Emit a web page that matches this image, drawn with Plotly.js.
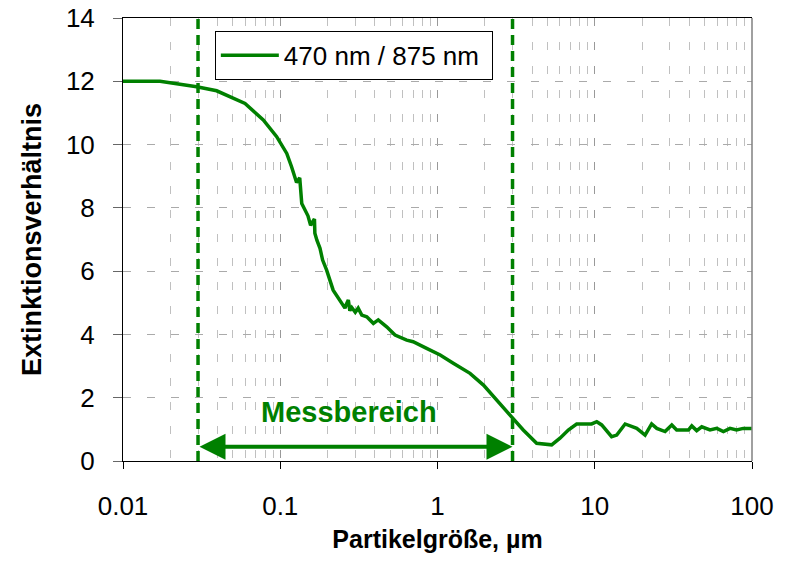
<!DOCTYPE html>
<html>
<head>
<meta charset="utf-8">
<script src="https://cdn.plot.ly/plotly-3.0.1.min.js"></script>
<style>html,body{margin:0;padding:0;background:#fff;}#chart{width:789px;height:561px;}</style>
</head>
<body>
<div id="chart"></div>
<script>
// Particle size (µm) and extinction ratio 470 nm / 875 nm
const particleSize = [0.01, 0.0172, 0.0294, 0.0394, 0.0597, 0.078, 0.0949, 0.100, 0.102, 0.110, 0.118, 0.124, 0.127, 0.133, 0.137,
  0.150, 0.156, 0.165, 0.166, 0.171, 0.179, 0.186, 0.197, 0.217, 0.240, 0.258, 0.263, 0.271, 0.277, 0.285, 0.30, 0.313, 0.33,
  0.355, 0.391, 0.42, 0.475, 0.537, 0.637, 0.70, 0.853, 1.04, 1.26, 1.61, 1.96, 2.38, 2.89, 3.51, 4.27, 5.32, 6.01, 6.79, 7.67,
  9.55, 10.3, 11.07, 12.8, 13.8, 15.6, 17.6, 18.5, 20.9, 23.0, 24.8, 28.0, 30.9, 33.2, 39.4, 41.4, 44.5, 47.9, 54.1, 59.7, 65.8,
  72.5, 79.8, 88, 100];
const extinctionRatio = [12.0, 12.0, 11.83, 11.70, 11.30, 10.78, 10.25, 10.05, 9.99, 9.72, 9.30, 8.93, 8.80, 8.95, 8.14,
  7.75, 7.45, 7.65, 7.20, 6.98, 6.72, 6.35, 6.04, 5.40, 5.09, 4.83, 4.95, 5.09, 4.75, 4.85, 4.70, 4.83, 4.61,
  4.56, 4.35, 4.46, 4.24, 3.98, 3.82, 3.77, 3.56, 3.35, 3.09, 2.77, 2.40, 1.93, 1.45, 0.98, 0.56, 0.51, 0.72, 0.98, 1.17,
  1.17, 1.24, 1.14, 0.77, 0.82, 1.17, 1.08, 1.03, 0.82, 1.17, 1.03, 0.93, 1.14, 0.98, 0.98, 1.11, 0.96, 1.08, 0.98, 1.03, 0.93,
  1.03, 0.98, 1.03, 1.03];
const seriesName = '470 nm / 875 nm\u00a0';

// Measuring range
const rangeLow = 0.03;
const rangeHigh = 3;
const rangeLineY = [0, 14];
const arrowY = 0.45;
const labelX = 0.275;
const labelY = 1.55;
const rangeLabel = 'Messbereich';

// Axes
const xTickVals = [0.01, 0.1, 1, 10, 100];
const xTickText = ['0.01', '0.1', '1', '10', '100'];
const yTickVals = [0, 2, 4, 6, 8, 10, 12, 14];
const xTitle = 'Partikelgröße, µm';
const yTitle = 'Extinktionsverhältnis';

const green = '#008000';
const fontFam = 'Arial, "Liberation Sans", sans-serif';

const traces = [
  {x: [rangeLow, rangeLow], y: rangeLineY, mode: 'lines', showlegend: false, hoverinfo: 'skip',
   line: {color: green, width: 3.5, dash: '10px,6px'}},
  {x: [rangeHigh, rangeHigh], y: rangeLineY, mode: 'lines', showlegend: false, hoverinfo: 'skip',
   line: {color: green, width: 3.5, dash: '10px,6px'}},
  {x: particleSize, y: extinctionRatio, mode: 'lines', name: seriesName,
   line: {color: green, width: 3.5}}
];

const layout = {
  width: 789, height: 561,
  margin: {l: 123, r: 37, t: 18, b: 100},
  paper_bgcolor: '#fff', plot_bgcolor: '#fff',
  font: {family: fontFam, color: '#000', size: 26},
  showlegend: true,
  legend: {x: 0.146, y: 0.971, xanchor: 'left', yanchor: 'top', bgcolor: '#fff',
    bordercolor: '#000', borderwidth: 1, font: {size: 26, family: fontFam}, itemwidth: 58},
  xaxis: {type: 'log', range: [-2, 2], tickvals: xTickVals, ticktext: xTickText,
    ticks: 'outside', ticklen: 7, tickwidth: 1, tickcolor: '#000', ticklabelstandoff: 15,
    showline: true, linecolor: '#000', linewidth: 1, mirror: true,
    showgrid: true, gridcolor: '#999', gridwidth: 1, griddash: '8px,16px',
    minor: {dtick: 'D1', showgrid: true, gridcolor: '#c0c0c0', gridwidth: 1, griddash: '8px,16px', ticks: ''},
    zeroline: false,
    tickfont: {size: 26},
    title: {text: xTitle, font: {size: 25, family: fontFam, weight: 'bold'}, standoff: 10}},
  yaxis: {range: [0, 14], tickvals: yTickVals, ticks: 'outside', ticklen: 9, tickwidth: 1, tickcolor: '#666',
    ticklabelstandoff: 13,
    showline: true, linecolor: '#000', linewidth: 1,
    showgrid: true, gridcolor: '#aaa', gridwidth: 1, griddash: '8px,16px', zeroline: false,
    tickfont: {size: 26},
    title: {text: yTitle, font: {size: 27, family: fontFam, weight: 'bold'}, standoff: 16}},
  shapes: [
    {type: 'line', xref: 'paper', yref: 'paper', x0: 1, x1: 1, y0: 0, y1: 1, line: {color: '#808080', width: 1.5}}
  ],
  annotations: [
    {x: Math.log10(rangeHigh), y: arrowY, ax: Math.log10(rangeLow), ay: arrowY, xref: 'x', yref: 'y', axref: 'x', ayref: 'y',
     showarrow: true, arrowside: 'end+start', arrowhead: 2, arrowsize: 1.3, arrowwidth: 4, arrowcolor: green,
     standoff: 0, startstandoff: 0, text: ''},
    {x: Math.log10(labelX), y: labelY, xref: 'x', yref: 'y', text: rangeLabel, showarrow: false,
     font: {size: 29, color: green, family: fontFam, weight: 'bold'}}
  ]
};

Plotly.newPlot('chart', traces, layout, {displayModeBar: false, staticPlot: true});
</script>
</body>
</html>
